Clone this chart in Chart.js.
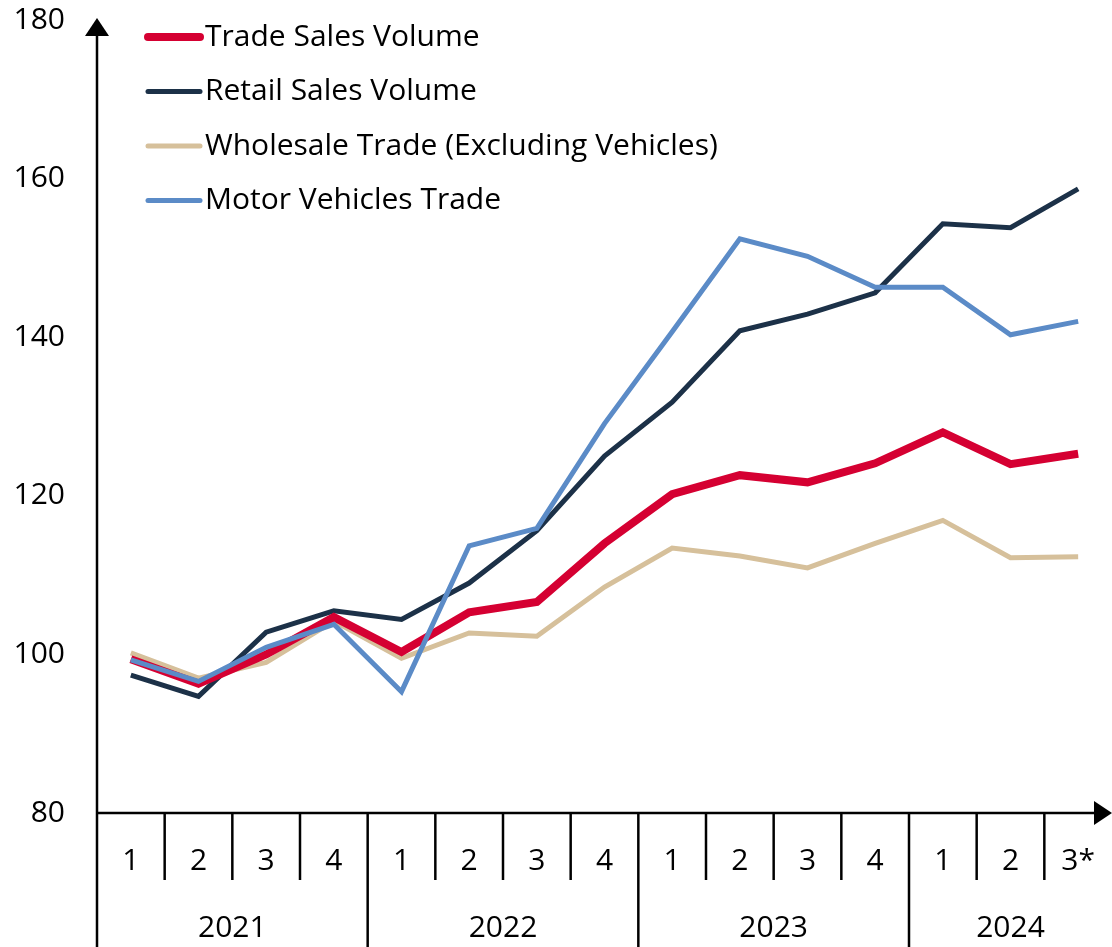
<!DOCTYPE html>
<html lang="en">
<head>
    <meta charset="UTF-8">
    <title>Trade Sales Volume</title>
    <script src="https://cdn.jsdelivr.net/npm/chart.js@4.4.0/dist/chart.umd.min.js"></script>
    <style>
        html, body {
            margin: 0;
            padding: 0;
            background: #fff;
        }
        #wrap {
            width: 1112px;
            height: 947px;
            position: relative;
        }
    </style>
</head>
<body>
<div id="wrap">
    <canvas id="chart"></canvas>
</div>
<script>
    const quarters = ['1', '2', '3', '4', '1', '2', '3', '4', '1', '2', '3', '4', '1', '2', '3*'];
    const years = ['2021', '2022', '2023', '2024'];
    const yearSpans = [4, 4, 4, 3];
    const yTicks = [80, 100, 120, 140, 160, 180];

    const tradeSales = [99.4, 96.3, 100.0, 104.7, 100.3, 105.3, 106.6, 114.0, 120.2, 122.6, 121.7, 124.1, 128.0, 124.0, 125.3];
    const retailSales = [97.4, 94.7, 102.8, 105.5, 104.4, 109.0, 115.6, 125.0, 131.8, 140.8, 142.9, 145.6, 154.3, 153.8, 158.7];
    const wholesale = [100.2, 97.0, 99.0, 104.2, 99.5, 102.7, 102.3, 108.5, 113.4, 112.4, 110.9, 114.0, 116.9, 112.2, 112.3];
    const motorVehicles = [99.3, 96.6, 100.9, 103.8, 95.3, 113.7, 115.9, 129.1, 140.7, 152.4, 150.2, 146.3, 146.3, 140.3, 142.0];

    const FONT = '"Open Sans", "Noto Sans", sans-serif';
    const FONT_SIZE = 30;

    const series = [
        { label: 'Trade Sales Volume', data: tradeSales, color: '#d50032', width: 8, order: 2 },
        { label: 'Retail Sales Volume', data: retailSales, color: '#1c3148', width: 5, order: 3 },
        { label: 'Wholesale Trade (Excluding Vehicles)', data: wholesale, color: '#d6c09b', width: 5, order: 4 },
        { label: 'Motor Vehicles Trade', data: motorVehicles, color: '#5b8bc7', width: 5, order: 1 }
    ];

    // axes, arrows, two-level category labels and legend
    const decorations = {
        id: 'decorations',
        afterDraw(chart) {
            const ctx = chart.ctx;
            const area = chart.chartArea;
            const bottom = chart.height;
            const step = (area.right - area.left) / quarters.length;
            ctx.save();
            ctx.strokeStyle = '#000';
            ctx.fillStyle = '#000';
            ctx.lineWidth = 2.5;

            // y axis with arrow
            ctx.beginPath();
            ctx.moveTo(area.left, bottom);
            ctx.lineTo(area.left, area.top + 10);
            ctx.stroke();
            ctx.beginPath();
            ctx.moveTo(area.left, area.top - 2);
            ctx.lineTo(area.left - 12, area.top + 16);
            ctx.lineTo(area.left + 12, area.top + 16);
            ctx.closePath();
            ctx.fill();

            // x axis with arrow
            ctx.beginPath();
            ctx.moveTo(area.left, area.bottom);
            ctx.lineTo(chart.width - 10, area.bottom);
            ctx.stroke();
            ctx.beginPath();
            ctx.moveTo(chart.width, area.bottom);
            ctx.lineTo(chart.width - 18, area.bottom - 12);
            ctx.lineTo(chart.width - 18, area.bottom + 12);
            ctx.closePath();
            ctx.fill();

            // separators
            let yearStarts = [0];
            yearSpans.reduce((a, s) => { yearStarts.push(a + s); return a + s; }, 0);
            for (let i = 1; i < quarters.length; i++) {
                const x = area.left + i * step;
                const isYear = yearStarts.includes(i);
                ctx.beginPath();
                ctx.moveTo(x, area.bottom);
                ctx.lineTo(x, isYear ? bottom : area.bottom + 67);
                ctx.stroke();
            }

            // labels
            ctx.font = FONT_SIZE + 'px ' + FONT;
            ctx.textAlign = 'center';
            ctx.textBaseline = 'middle';
            quarters.forEach((q, i) => {
                ctx.fillText(q, area.left + (i + 0.5) * step, area.bottom + 48);
            });
            years.forEach((y, i) => {
                const mid = yearStarts[i] + yearSpans[i] / 2;
                ctx.fillText(y, area.left + mid * step, area.bottom + 115);
            });

            // legend
            ctx.textAlign = 'left';
            ctx.lineCap = 'round';
            series.forEach((s, i) => {
                const y = 37 + i * 54.5;
                ctx.strokeStyle = s.color;
                ctx.lineWidth = s.width;
                ctx.beginPath();
                ctx.moveTo(148, y);
                ctx.lineTo(200, y);
                ctx.stroke();
                ctx.fillText(s.label, 205, y);
            });
            ctx.restore();
        }
    };

    const chart = new Chart(document.getElementById('chart'), {
        type: 'line',
        data: {
            labels: quarters,
            datasets: series.map(s => ({
                label: s.label,
                data: s.data,
                borderColor: s.color,
                borderWidth: s.width,
                pointRadius: 0,
                tension: 0,
                fill: false,
                order: s.order
            }))
        },
        options: {
            responsive: true,
            maintainAspectRatio: false,
            animation: false,
            layout: { padding: { top: 20, right: 0, left: 0, bottom: 0 } },
            plugins: {
                legend: { display: false },
                tooltip: { enabled: false }
            },
            scales: {
                x: {
                    offset: true,
                    grid: { display: false },
                    border: { display: false },
                    ticks: { display: false },
                    afterFit(scale) { scale.height = 134; scale.paddingLeft = 0; scale.paddingRight = 0; }
                },
                y: {
                    min: 80,
                    max: 180,
                    afterBuildTicks(scale) { scale.ticks = yTicks.map(v => ({ value: v })); },
                    grid: { display: false, drawTicks: false },
                    border: { display: false },
                    ticks: {
                        color: '#000',
                        padding: 32,
                        font: { size: FONT_SIZE, family: FONT }
                    },
                    afterFit(scale) { scale.width = 97; scale.paddingTop = 0; scale.paddingBottom = 0; }
                }
            }
        },
        plugins: [decorations]
    });
</script>
</body>
</html>
